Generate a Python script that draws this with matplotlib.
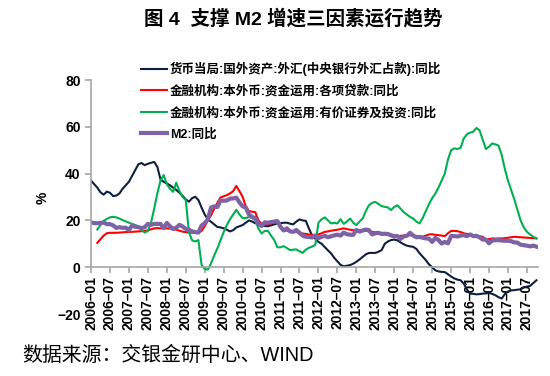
import numpy as np
import matplotlib
matplotlib.use("Agg")
import matplotlib.pyplot as plt

plt.rcParams['font.family'] = ['Liberation Sans', 'Noto Sans CJK SC', 'DejaVu Sans']

# monthly data, 2006-01 .. 2017-10
fx_yoy = [37.0, 35.5, 34.0, 32.0, 31.0, 32.3, 31.8, 30.4, 30.6, 31.5, 33.5, 35.0,
          36.5, 39.0, 41.5, 44.0, 44.5, 43.6, 44.2, 44.6, 45.0, 42.9, 37.5, 36.5,
          35.8, 35.0, 34.0, 33.0, 31.8, 30.5, 29.0, 28.0, 29.5, 30.1, 28.7, 25.5,
          22.5, 20.5, 19.4, 18.3, 17.2, 17.0, 16.6, 16.0, 15.3, 15.8, 17.0, 17.5,
          18.0, 19.0, 20.0, 19.5, 18.8, 18.5, 18.0, 17.6, 17.5, 17.9, 18.3, 18.7,
          18.8, 19.0, 19.0, 18.6, 18.3, 19.5, 20.4, 20.0, 19.8, 16.5, 13.5, 12.2,
          10.8, 10.0, 8.6, 7.2, 5.9, 4.0, 2.5, 1.0, 0.4, 0.6, 0.9, 1.5,
          2.3, 3.3, 4.4, 5.5, 6.1, 6.1, 6.1, 6.6, 7.3, 10.0, 11.0, 11.6,
          11.8, 11.5, 10.6, 9.8, 9.2, 8.9, 8.7, 7.8, 6.0, 4.5, 3.0, 1.2,
          0.0, -1.3, -1.8, -2.0, -2.1, -3.0, -4.0, -4.8, -5.3, -5.6, -7.0, -9.5,
          -11.3, -11.4, -11.6, -11.5, -11.3, -11.2, -11.0, -11.4, -12.0, -12.8, -13.4, -11.5,
          -10.4, -9.9, -9.8, -9.6, -9.5, -8.6, -8.3, -8.0, -6.8, -5.6]

loans_yoy = [None, None, 10.4, 12.0, 13.5, 14.5, 14.7, 14.7, 14.7, 14.8, 14.9, 15.0,
             15.1, 15.1, 15.2, 15.3, 15.4, 15.5, 15.8, 16.2, 16.6, 16.7, 16.6, 16.6,
             16.6, 16.5, 16.3, 16.0, 15.6, 15.2, 15.0, 14.8, 14.7, 14.7, 14.7, 15.5,
             17.5, 20.0, 22.2, 25.0, 27.5, 29.8, 30.3, 30.8, 31.5, 32.5, 34.7, 32.5,
             30.1, 26.0, 24.0, 23.7, 23.5, 20.0, 18.5, 18.0, 18.3, 18.7, 19.0, 19.4,
             17.5, 15.8, 15.6, 15.4, 15.1, 15.0, 14.7, 14.4, 14.2, 14.0, 13.8, 13.7,
             14.0, 14.5, 15.1, 15.3, 15.6, 15.8, 16.0, 16.3, 16.6, 16.3, 16.0, 15.8,
             15.8, 15.8, 15.8, 15.6, 15.3, 15.1, 14.9, 14.7, 14.5, 14.4, 14.1, 13.9,
             13.7, 13.3, 13.4, 13.5, 13.6, 13.7, 13.5, 13.3, 13.1, 13.0, 13.5, 14.0,
             14.1, 13.8, 13.7, 13.5, 13.3, 14.5, 15.5, 15.5, 15.4, 15.0, 14.5, 14.2,
             14.0, 13.7, 13.5, 13.2, 13.0, 11.6, 12.0, 12.3, 12.2, 12.3, 12.3, 12.4,
             12.6, 12.8, 13.0, 12.9, 12.8, 12.7, 12.6, 12.5, 12.4, 12.3]

securities_yoy = [None, None, 16.1, 18.0, 19.8, 20.6, 21.3, 21.5, 21.3, 20.8, 20.1, 19.6,
                  19.0, 18.5, 18.0, 17.5, 16.0, 14.8, 15.5, 19.0, 25.0, 31.5, 37.0, 39.4,
                  35.5, 33.5, 32.2, 36.1, 32.5, 30.0, 28.7, 15.0, 11.5, 11.0, 11.6, 1.0,
                  -0.8, -1.0, 1.6, 5.0, 8.0, 11.5, 15.0, 18.0, 20.5, 22.5, 24.5, 22.5,
                  21.0, 21.0, 21.5, 21.0, 20.0, 16.5, 14.4, 15.5, 15.5, 13.5, 11.6, 8.5,
                  8.5, 9.0, 8.2, 7.3, 7.5, 7.6, 6.8, 6.1, 7.5, 8.3, 8.8, 9.5,
                  19.0, 20.5, 21.3, 20.0, 18.7, 19.0, 18.7, 20.5, 18.5, 19.5, 20.8, 19.0,
                  18.0, 19.5, 20.8, 24.0, 26.5, 27.5, 27.9, 27.0, 26.1, 25.8, 25.5, 24.4,
                  25.8, 26.5, 25.0, 23.5, 22.5, 21.5, 20.8, 19.5, 18.7, 21.0, 24.0, 27.0,
                  29.5, 31.5, 34.0, 37.0, 40.0, 46.0, 50.0, 50.8, 50.5, 51.0, 55.0, 56.8,
                  57.5, 57.9, 59.5, 58.5, 54.5, 50.5, 51.5, 52.9, 52.5, 52.0, 48.0, 42.0,
                  37.0, 33.0, 29.0, 24.5, 20.0, 17.0, 15.1, 14.0, 13.0, 12.3]

m2_yoy = [19.2, 18.8, 18.8, 18.9, 19.1, 18.4, 18.4, 17.9, 16.8, 17.1, 16.8, 16.9,
          15.9, 17.8, 17.3, 17.1, 16.7, 17.1, 18.5, 18.1, 18.5, 18.5, 18.5, 16.7,
          18.9, 17.5, 16.3, 16.9, 18.1, 17.4, 16.4, 16.0, 15.3, 15.0, 14.8, 17.8,
          18.8, 20.5, 25.5, 26.0, 25.7, 28.5, 28.4, 28.5, 29.3, 29.4, 29.7, 27.7,
          26.0, 25.5, 22.5, 21.5, 21.0, 18.5, 17.6, 19.2, 19.0, 19.3, 19.5, 19.7,
          17.2, 15.7, 16.6, 15.3, 15.1, 15.9, 14.7, 13.5, 13.0, 12.9, 12.7, 13.6,
          12.4, 13.0, 13.4, 12.8, 13.2, 13.6, 13.9, 13.5, 14.8, 14.1, 13.9, 13.8,
          15.9, 15.2, 15.7, 16.1, 15.8, 14.0, 14.5, 14.7, 14.2, 14.3, 14.2, 13.6,
          13.2, 13.3, 12.1, 13.2, 13.4, 14.7, 13.5, 12.8, 12.9, 12.6, 12.3, 12.2,
          10.8, 12.5, 11.6, 10.1, 10.8, 10.2, 13.3, 13.3, 13.1, 13.5, 13.7, 13.3,
          14.0, 13.3, 13.4, 12.8, 11.8, 11.8, 10.2, 11.4, 11.5, 11.6, 11.4, 11.3,
          11.3, 11.1, 10.6, 10.5, 9.6, 9.4, 9.2, 8.9, 9.2, 8.8]

labels = ['货币当局:国外资产:外汇(中央银行外汇占款):同比',
          '金融机构:本外币:资金运用:各项贷款:同比',
          '金融机构:本外币:资金运用:有价证券及投资:同比',
          'M2:同比']

tick_labels = ['%d–%s' % (y, m) for y in range(2006, 2018) for m in ('01', '07')]

def arr(v):
    return np.array([np.nan if x is None else x for x in v], dtype=float)

months = np.arange(len(m2_yoy))

fig = plt.figure(figsize=(5.5, 3.76), dpi=100)
ax = fig.add_axes([91 / 550, 1 - 314 / 376, 447 / 550, 234 / 376])

# spines first: moving the spine resets the tick objects
for s in ['top', 'right']:
    ax.spines[s].set_visible(False)
ax.spines['bottom'].set_position(('data', 0))
ax.spines['left'].set_bounds(0, 80)
for s in ['bottom', 'left']:
    ax.spines[s].set_color('#A6A6A6')
    ax.spines[s].set_linewidth(1.2)

ax.plot(months, arr(fx_yoy), color='#0E1E3E', lw=1.5, label=labels[0])
ax.plot(months, arr(loans_yoy), color='#FF0000', lw=1.5, label=labels[1])
ax.plot(months, arr(securities_yoy), color='#00B050', lw=1.5, label=labels[2])
ax.plot(months, arr(m2_yoy), color='#7E62A6', lw=3, label=labels[3])

ax.set_xlim(0, 141.5)
ax.set_ylim(-20, 80)
ax.set_yticks([-20, 0, 20, 40, 60, 80])
ax.set_xticks(np.arange(0, len(m2_yoy), 6))
ax.tick_params(axis='both', colors='#A6A6A6', labelcolor='black', length=4, width=1.2)
ax.tick_params(axis='x', pad=2)
ax.set_xticklabels(tick_labels, rotation=90, fontsize=10, fontweight='bold')
for t in ax.get_yticklabels():
    t.set_fontsize(10)
    t.set_fontweight('bold')

fig.text(43 / 550, 1 - 198 / 376, '%', rotation=90, fontsize=10, fontweight='bold',
         ha='center', va='center')

fig.text(293 / 550, 1 - 18 / 376, '图 4  支撑 M2 增速三因素运行趋势', fontsize=14,
         fontweight='bold', ha='center', va='center')

leg = ax.legend(loc='upper left', bbox_to_anchor=(136 / 550, 1 - 57 / 376),
                bbox_transform=fig.transFigure, frameon=False,
                prop={'size': 9, 'weight': 'bold'}, handlelength=2.1,
                handletextpad=0.2, labelspacing=0.72, borderaxespad=0)

fig.text(22 / 550, 1 - 355 / 376, '数据来源：交银金研中心、WIND', fontsize=14.3,
         ha='left', va='center')

fig.savefig('out.png', dpi=100)
